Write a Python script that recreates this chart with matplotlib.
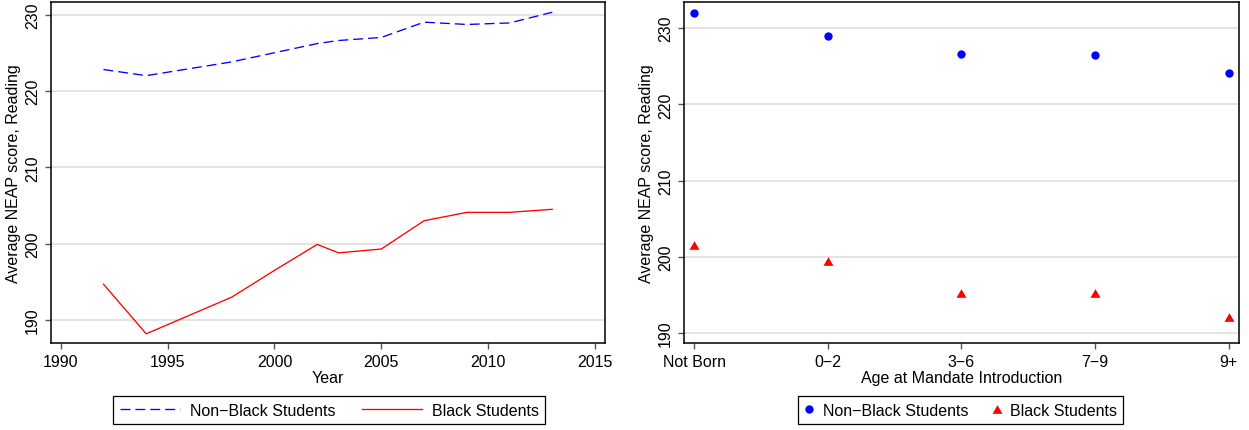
import matplotlib.pyplot as plt

plt.rcParams["font.family"] = ["Liberation Sans", "DejaVu Sans"]

# NEAP reading scores by year
years = [1992, 1994, 1998, 2000, 2002, 2003, 2005, 2007, 2009, 2011, 2013]
nonblack_by_year = [222.8, 222.0, 223.8, 225.0, 226.2, 226.6, 227.0, 229.0, 228.7, 228.9, 230.3]
black_by_year = [194.7, 188.2, 193.0, 196.5, 199.9, 198.8, 199.3, 203.0, 204.1, 204.1, 204.5]

# NEAP reading scores by age at mandate introduction
age_groups = ["Not Born", "0\u22122", "3\u22126", "7\u22129", "9+"]
nonblack_by_age = [232.0, 229.0, 226.6, 226.5, 224.1]
black_by_age = [201.5, 199.4, 195.2, 195.3, 192.1]

y_ticks = [190, 200, 210, 220, 230]
FS = 11.5
# flat-bottomed triangle centred on its bounding box
TRI = [(-1, -0.866), (1, -0.866), (0, 0.866), (-1, -0.866)]

fig = plt.figure(figsize=(12.49, 4.31), dpi=100)
ax1 = fig.add_axes([0.0406, 0.2019, 0.4440, 0.7904])
ax2 = fig.add_axes([0.5476, 0.2019, 0.4441, 0.7904])


def style_axes(ax):
    ax.set_yticks(y_ticks)
    ax.grid(axis="y", color="#e0e0e0", linewidth=1.3)
    ax.set_axisbelow(True)
    for s in ax.spines.values():
        s.set_linewidth(1.1)
        s.set_color("black")
    ax.tick_params(axis="both", direction="out", length=4.3, width=1.0,
                   color="#555555", labelsize=FS, pad=3.5)
    for lab in ax.get_yticklabels():
        lab.set_rotation(90)
        lab.set_va("center")
    ax.set_ylabel("Average NEAP score, Reading", fontsize=FS, labelpad=3)


def legend_below(ax, cx, **kw):
    leg = ax.legend(loc="center", bbox_to_anchor=(cx, 0.0459),
                    bbox_transform=fig.transFigure, ncol=2, fancybox=False,
                    edgecolor="black", framealpha=1, fontsize=FS,
                    borderpad=0.41, borderaxespad=0, **kw)
    leg.get_frame().set_linewidth(0.9)


# left: trends over time
ax1.plot(years, nonblack_by_year, color="blue", lw=0.95,
         linestyle=(0, (7.5, 3.8)), label="Non\u2212Black Students")
ax1.plot(years, black_by_year, color="red", lw=0.95, label="Black Students")
ax1.set_xlim(1989.53, 2015.48)
ax1.set_ylim(187.0, 231.6)
ax1.set_xticks([1990, 1995, 2000, 2005, 2010, 2015])
style_axes(ax1)
ax1.set_xlabel("Year", fontsize=FS, labelpad=1)
legend_below(ax1, 0.2635, handlelength=3.76, handletextpad=0.63,
             columnspacing=1.65)

# right: by age at mandate introduction
pos = list(range(len(age_groups)))
ax2.plot(pos, nonblack_by_age, "o", color="blue", markersize=6,
         markeredgewidth=0, label="Non\u2212Black Students")
ax2.plot(pos, black_by_age, marker=TRI, linestyle="none", color="red",
         markersize=7.2, markeredgewidth=0, label="Black Students")
ax2.set_xlim(-0.077, 4.075)
ax2.set_ylim(188.7, 233.4)
ax2.set_xticks(pos)
ax2.set_xticklabels(age_groups)
style_axes(ax2)
ax2.set_xlabel("Age at Mandate Introduction", fontsize=FS, labelpad=1)
legend_below(ax2, 0.7694, handlelength=0.55, handletextpad=0.56,
             columnspacing=1.5)

fig.savefig("out.png", dpi=100)
